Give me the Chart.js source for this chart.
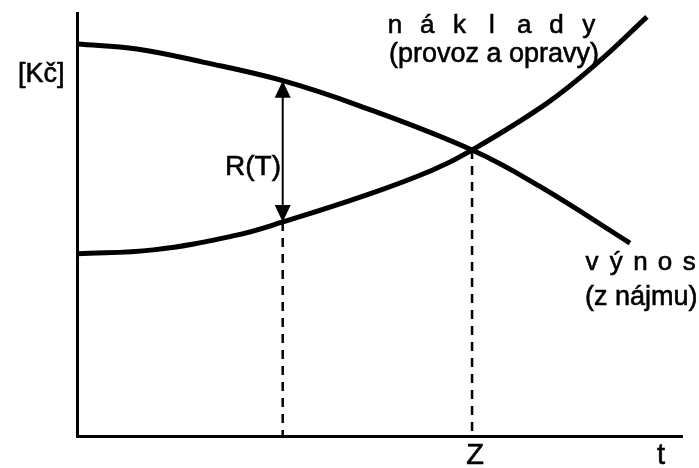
<!DOCTYPE html>
<html>
<head>
<meta charset="utf-8">
<script src="https://cdn.jsdelivr.net/npm/chart.js@4"></script>
<style>
  html, body { margin: 0; padding: 0; background: #fff; }
  canvas { display: block; }
</style>
</head>
<body>
<canvas id="graf" width="699" height="468"></canvas>
<script>
// naklady (provoz a opravy) - rostouci krivka
var nakladyT  = [0, 1.26, 2.64, 3.4, 4.79, 5.88, 6.53, 7.77, 8.6, 9.42];
var nakladyKc = [4.31, 4.4, 4.75, 5.06, 5.7, 6.29, 6.76, 7.87, 8.82, 9.91];
// vynos (z najmu) - klesajici krivka
var vynosT  = [0, 0.99, 2.08, 3.4, 4.68, 6.53, 7.65, 9.14];
var vynosKc = [9.27, 9.15, 8.84, 8.4, 7.8, 6.76, 5.9, 4.56];
// svisle carkovane cary: T a Z
var znackyT  = [3.4, 6.53];
var znackyKc = [5.06, 6.76];
var popisyOsy = ['Z', 't'];

function body(xs, ys) {
    return xs.map(function (x, i) { return { x: x, y: ys[i] }; });
}

var font = '"Liberation Sans", Arial, sans-serif';

function text(ctx, s, x, y) {
    ctx.fillText(s, x, y);
    ctx.strokeText(s, x, y);
}

var popisky = {
    id: 'popisky',
    afterDatasetsDraw: function (chart) {
        var ctx = chart.ctx;
        var sx = chart.scales.x, sy = chart.scales.y;
        ctx.save();
        ctx.fillStyle = '#000';
        ctx.strokeStyle = '#000';

        // dvojita sipka R(T)
        var ax = sx.getPixelForValue(znackyT[0]);
        var top = sy.getPixelForValue(vynosKc[3]);
        var bot = sy.getPixelForValue(znackyKc[0]);
        ctx.lineWidth = 2;
        ctx.beginPath();
        ctx.moveTo(ax, top + 10);
        ctx.lineTo(ax, bot - 10);
        ctx.stroke();
        ctx.beginPath();
        ctx.moveTo(ax, top); ctx.lineTo(ax - 8, top + 17); ctx.lineTo(ax + 8, top + 17); ctx.closePath();
        ctx.fill();
        ctx.beginPath();
        ctx.moveTo(ax, bot); ctx.lineTo(ax - 8, bot - 17); ctx.lineTo(ax + 8, bot - 17); ctx.closePath();
        ctx.fill();

        ctx.lineWidth = 0.6;
        ctx.font = '27px ' + font;
        ctx.textBaseline = 'alphabetic';
        ctx.textAlign = 'left';
        text(ctx, '[Kč]', 18, 82);
        text(ctx, '(provoz a opravy)', 389, 62);
        text(ctx, '(z nájmu)', 585, 305);
        ctx.font = '28px ' + font;
        text(ctx, 'R(T)', 225, 175);

        ctx.font = '26px ' + font;
        ctx.textAlign = 'center';
        'náklady'.split('').forEach(function (ch, i) {
            text(ctx, ch, 395 + i * 32.3, 33);
        });
        'výnos'.split('').forEach(function (ch, i) {
            text(ctx, ch, 592 + i * 24.3, 270);
        });

        // popisy pod osou t
        ctx.font = '29px ' + font;
        text(ctx, popisyOsy[0], sx.getPixelForValue(znackyT[1]) + 3, 464);
        text(ctx, popisyOsy[1], 661, 464);
        ctx.restore();
    }
};

var ctx = document.getElementById('graf').getContext('2d');
var myChart = new Chart(ctx, {
    type: 'scatter',
    data: {
        datasets: [{
            label: 'náklady',
            data: body(nakladyT, nakladyKc),
            showLine: true,
            borderColor: '#000',
            borderWidth: 5,
            tension: 0.4,
            pointRadius: 0
        }, {
            label: 'výnos',
            data: body(vynosT, vynosKc),
            showLine: true,
            borderColor: '#000',
            borderWidth: 5,
            tension: 0.4,
            pointRadius: 0
        }, {
            label: 'T',
            data: [{ x: znackyT[0], y: znackyKc[0] }, { x: znackyT[0], y: 0 }],
            showLine: true,
            borderColor: '#000',
            borderWidth: 2.5,
            borderDash: [9, 7],
            pointRadius: 0
        }, {
            label: 'Z',
            data: [{ x: znackyT[1], y: znackyKc[1] }, { x: znackyT[1], y: 0 }],
            showLine: true,
            borderColor: '#000',
            borderWidth: 2.5,
            borderDash: [9, 7],
            pointRadius: 0
        }]
    },
    options: {
        responsive: false,
        animation: false,
        layout: {
            padding: { left: 77, right: 17, top: 13, bottom: 32 }
        },
        plugins: {
            legend: { display: false },
            tooltip: { enabled: false }
        },
        scales: {
            x: {
                type: 'linear',
                min: 0,
                max: 10,
                grid: { display: false, drawTicks: false },
                ticks: { display: false },
                border: { display: true, color: '#000', width: 3 }
            },
            y: {
                min: 0,
                max: 10,
                grid: { display: false, drawTicks: false },
                ticks: { display: false },
                border: { display: true, color: '#000', width: 3 }
            }
        }
    },
    plugins: [popisky]
});
</script>
</body>
</html>
